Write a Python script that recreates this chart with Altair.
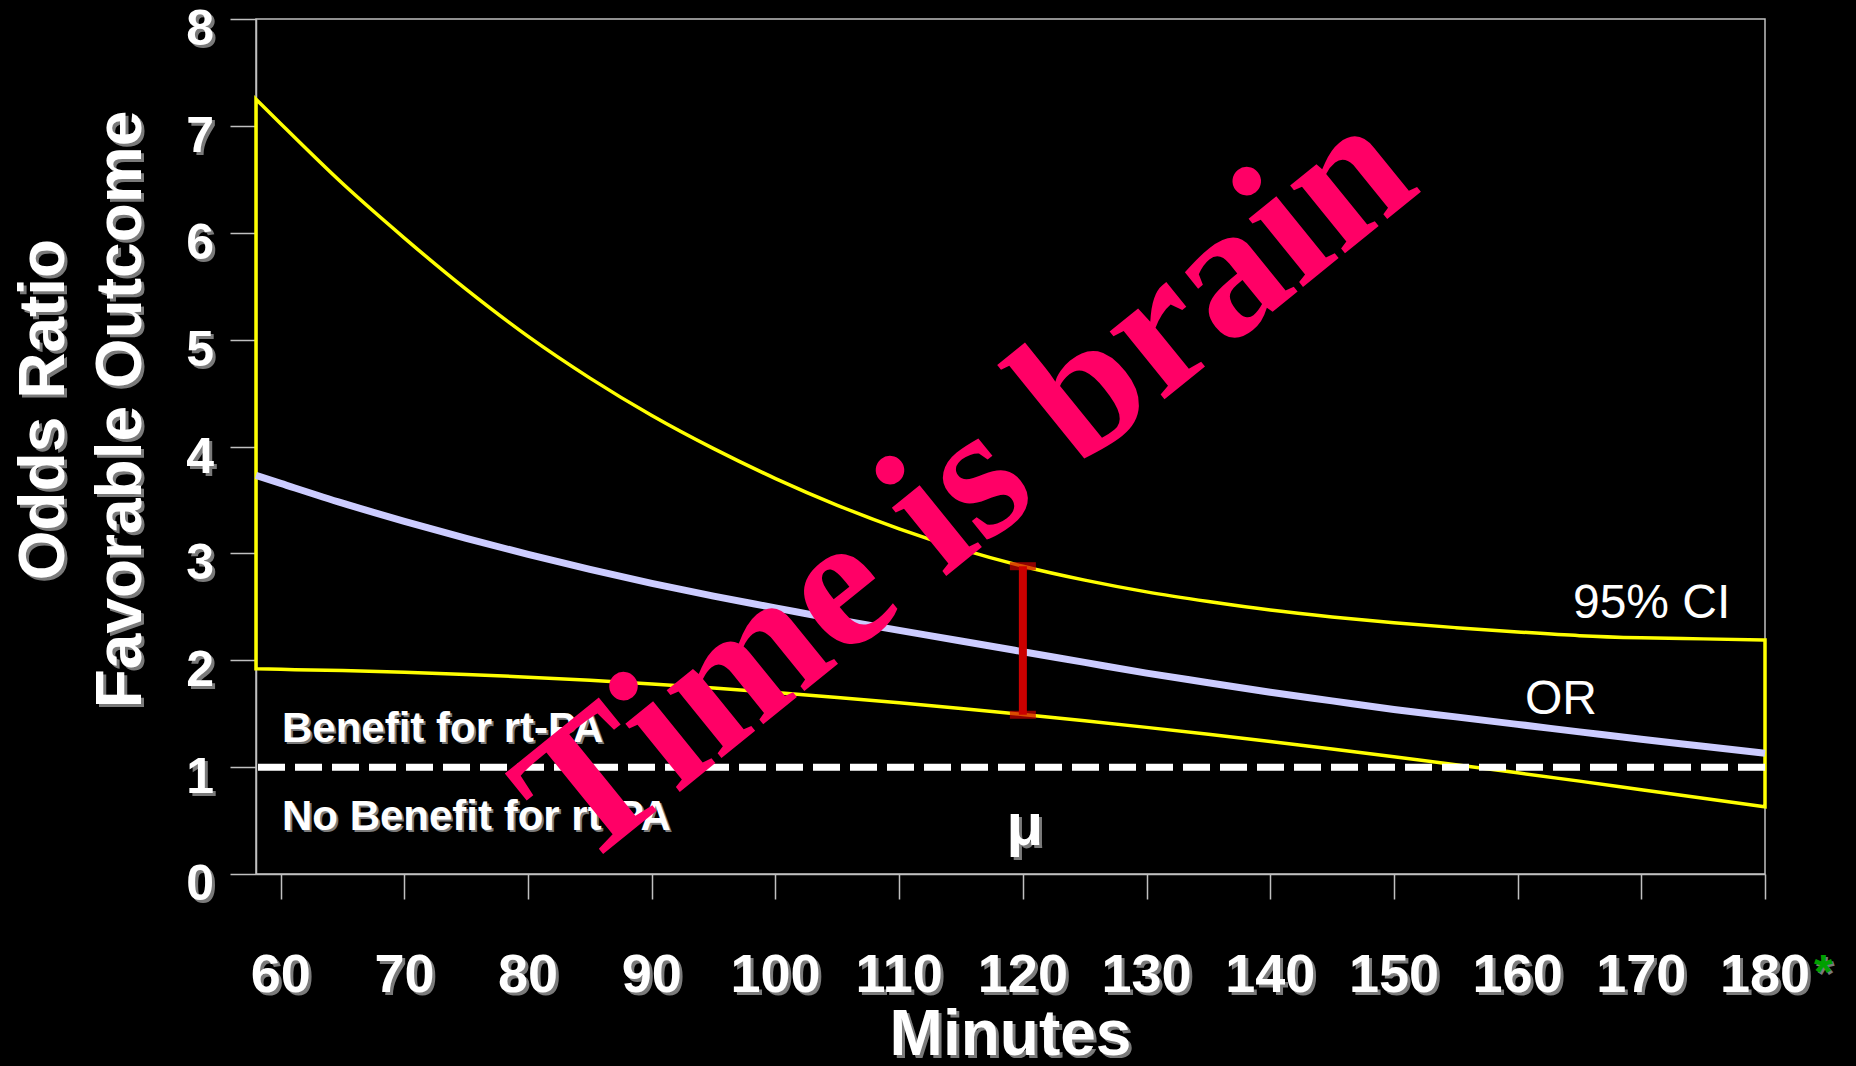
import altair as alt
import pandas as pd

# ---------------- data ----------------
minutes = [58, 60, 65, 70, 75, 80, 85, 90, 95, 100, 105, 110, 115, 120,
           125, 130, 135, 140, 145, 150, 155, 160, 165, 170, 175, 180]
ci_upper = [7.25, 7.02, 6.46, 5.95, 5.47, 5.03, 4.64, 4.29, 3.98, 3.70, 3.45, 3.23,
            3.04, 2.88, 2.75, 2.64, 2.55, 2.47, 2.405, 2.35, 2.305, 2.265, 2.23, 2.21,
            2.20, 2.19]
ci_lower = [1.92, 1.915, 1.903, 1.887, 1.867, 1.842, 1.812, 1.778, 1.740, 1.698, 1.652,
            1.602, 1.549, 1.493, 1.434, 1.372, 1.307, 1.239, 1.169, 1.097, 1.023, 0.947,
            0.869, 0.789, 0.709, 0.629]
odds_ratio = [3.73, 3.655, 3.47, 3.30, 3.14, 2.99, 2.85, 2.72, 2.60, 2.49, 2.38, 2.28,
              2.18, 2.08, 1.98, 1.88, 1.79, 1.70, 1.62, 1.54, 1.47, 1.40, 1.33, 1.26,
              1.195, 1.13]

x_ticks = [60, 70, 80, 90, 100, 110, 120, 130, 140, 150, 160, 170, 180]
y_ticks = [0, 1, 2, 3, 4, 5, 6, 7, 8]
x_tick_labels = [str(v) for v in x_ticks]
y_tick_labels = [str(v) for v in y_ticks]

mu_minutes = [120]
mu_ci_low = [1.49]
mu_ci_high = [2.88]
no_effect = [1]

x_title = "Minutes"
y_title_lines = ["Odds Ratio", "Favorable Outcome"]
benefit_labels = ["Benefit for rt-PA", "No Benefit for rt-PA"]
benefit_y = [1.235, 0.41]
slogan = "Time is brain"

# ---------------- page background (black like the slide) ----------------
try:
    import altair.utils.html as _h

    _orig_tpl = _h.TEMPLATES["standard"]

    class _BlackPage:
        def render(self, *a, **k):
            s = _orig_tpl.render(*a, **k)
            return s.replace("<style>", "<style>\n    html, body { background: #000000; }\n", 1)

    _h.TEMPLATES["standard"] = _BlackPage()
except Exception:
    pass

# ---------------- styling ----------------
W, H = 1509, 855
X_DOMAIN = [58, 180]
Y_DOMAIN = [0, 8]
GRAY = "#c0c0c0"
SHADOW = "#7a7a7a"
YELLOW = "#ffff00"
LAVENDER = "#ccccff"
RED = "#cc0000"
PINK = "#ff0066"
SANS = "Liberation Sans"
SERIF = "Liberation Serif"

XS = alt.Scale(domain=X_DOMAIN, nice=False, zero=False)
YS = alt.Scale(domain=Y_DOMAIN, nice=False)
XAX = alt.Axis(values=x_ticks, labels=False, title=None, grid=False, tickSize=25,
               tickColor=GRAY, tickWidth=1.5, domainColor=GRAY, domainWidth=1.5)
YAX = alt.Axis(values=y_ticks, labels=False, title=None, grid=False, tickSize=26,
               tickColor=GRAY, tickWidth=1.5, domainColor=GRAY, domainWidth=1.5)


def X(f):
    return alt.X(f, type="quantitative", scale=XS, axis=XAX)


def Y(f):
    return alt.Y(f, type="quantitative", scale=YS, axis=YAX)


def texts(df, size, align="center", dx=0, dy=0, angle=None, font=SANS,
          weight="bold", color="white", shadow=SHADOW, off=3):
    kw = dict(fontSize=size, font=font, fontWeight=weight, align=align,
              baseline="alphabetic")
    if angle is not None:
        kw["angle"] = angle
    enc = dict(x=X("x"), y=Y("y"), text="t:N")
    out = []
    if shadow:
        if angle == 270:
            sdx, sdy = -off, off
        else:
            sdx, sdy = off, off
        out.append(alt.Chart(df).mark_text(color=shadow, dx=dx + sdx, dy=dy + sdy, **kw).encode(**enc))
    out.append(alt.Chart(df).mark_text(color=color, dx=dx, dy=dy, **kw).encode(**enc))
    return out


curves = pd.DataFrame({"minutes": minutes, "upper": ci_upper, "lower": ci_lower,
                       "odds": odds_ratio})

ci_band = alt.Chart(curves).mark_area(
    fillOpacity=0, stroke=YELLOW, strokeWidth=3.5, interpolate="monotone"
).encode(x=X("minutes"), y=Y("upper"), y2="lower")

or_line = alt.Chart(curves).mark_line(
    color=LAVENDER, strokeWidth=7, interpolate="monotone"
).encode(x=X("minutes"), y=Y("odds"))

ref_rule = alt.Chart(pd.DataFrame({"y": no_effect})).mark_rule(
    color="white", strokeWidth=7, strokeDash=[27, 10]
).encode(y=Y("y"))

mu_df = pd.DataFrame({"x": mu_minutes, "lo": mu_ci_low, "hi": mu_ci_high})
err_rule = alt.Chart(mu_df).mark_rule(color=RED, strokeWidth=8).encode(
    x=X("x"), y=Y("lo"), y2="hi")
caps_df = pd.DataFrame({"x": mu_minutes * 2, "y": mu_ci_low + mu_ci_high})
err_caps = alt.Chart(caps_df).mark_tick(
    orient="horizontal", size=26, thickness=8, color=RED
).encode(x=X("x"), y=Y("y"))

xl_df = pd.DataFrame({"x": x_ticks, "y": [0] * len(x_ticks), "t": x_tick_labels})
yl_df = pd.DataFrame({"x": [X_DOMAIN[0]] * len(y_ticks), "y": y_ticks, "t": y_tick_labels})
xt_df = pd.DataFrame({"x": [sum(X_DOMAIN) / 2], "y": [0], "t": [x_title]})
yt1_df = pd.DataFrame({"x": [X_DOMAIN[0]], "y": [4], "t": [y_title_lines[0]]})
yt2_df = pd.DataFrame({"x": [X_DOMAIN[0]], "y": [4], "t": [y_title_lines[1]]})
ben_df = pd.DataFrame({"x": [X_DOMAIN[0]] * 2, "y": benefit_y, "t": benefit_labels})
mu_lbl = pd.DataFrame({"x": mu_minutes, "y": [0], "t": ["μ"]})
star_df = pd.DataFrame({"x": [180], "y": [0], "t": ["*"]})
ci_lbl = pd.DataFrame({"x": [177.2], "y": [2.395], "t": ["95% CI"]})
or_lbl = pd.DataFrame({"x": [163.5], "y": [1.497], "t": ["OR"]})
slogan_df = pd.DataFrame({"x": [118.3], "y": [3.21], "t": [slogan]})

layers = [ci_band, or_line, ref_rule, err_rule, err_caps]
layers += texts(xl_df, 54, dy=118)
layers += texts(yl_df, 50, align="right", dx=-42, dy=26)
layers += texts(xt_df, 64, dy=181)
layers += texts(yt1_df, 64, angle=270, dx=37, dy=-192)
layers += texts(yt2_df, 64, angle=270, dx=37, dy=-115)
layers += texts(ben_df, 42, align="left", dx=26, off=2)
layers += texts(mu_lbl, 60, dx=2, dy=-29)
layers += texts(star_df, 48, align="left", dx=49, dy=114, color="#00a000", off=2)
layers += texts(ci_lbl, 48, align="right", weight="normal", shadow=None)
layers += texts(or_lbl, 48, weight="normal", shadow=None)
layers += texts(slogan_df, 190, angle=321, font=SERIF, color=PINK, shadow=None)

chart = alt.layer(*layers).properties(
    width=W, height=H, background="black",
    padding={"left": 248, "top": 11, "right": 80, "bottom": 184},
    autosize=alt.AutoSizeParams(type="none"),
).configure_view(stroke=GRAY, strokeWidth=1.5)

chart.save("out.html", embed_options={"renderer": "svg", "actions": False})
